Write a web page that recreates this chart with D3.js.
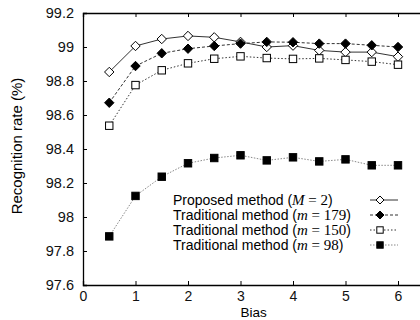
<!DOCTYPE html>
<html>
<head>
    <title>Recognition rate vs bias</title>
    <script src="https://d3js.org/d3.v7.min.js"></script>
    <style>
        body { margin: 0; background-color: #ffffff; }
        svg { display: block; }
    </style>
</head>
<body>
    <script>
        // data
        const bias = [0.5, 1, 1.5, 2, 2.5, 3, 3.5, 4, 4.5, 5, 5.5, 6];
        const proposedM2 = [98.853, 99.006, 99.047, 99.065, 99.057, 99.03, 99.0, 99.008, 98.98, 98.97, 98.97, 98.943];
        const tradM179 = [98.672, 98.888, 98.963, 98.99, 99.006, 99.02, 99.03, 99.028, 99.02, 99.02, 99.01, 99.0];
        const tradM150 = [98.537, 98.776, 98.863, 98.904, 98.931, 98.945, 98.935, 98.93, 98.933, 98.924, 98.914, 98.896];
        const tradM98 = [97.886, 98.124, 98.237, 98.316, 98.347, 98.363, 98.333, 98.351, 98.327, 98.339, 98.304, 98.304];
        const xTicks = [0, 1, 2, 3, 4, 5, 6];
        const yTicks = [97.6, 97.8, 98, 98.2, 98.4, 98.6, 98.8, 99, 99.2];

        const series = [
            { label: "Proposed method", v: "M", n: "2", values: proposedM2, marker: "diamond", filled: false, dash: null },
            { label: "Traditional method", v: "m", n: "179", values: tradM179, marker: "diamond", filled: true, dash: "3,2" },
            { label: "Traditional method", v: "m", n: "150", values: tradM150, marker: "square", filled: false, dash: "1.5,2" },
            { label: "Traditional method", v: "m", n: "98", values: tradM98, marker: "square", filled: true, dash: "1.5,1.5" }
        ];

        const W = 420, H = 320;
        const margin = { top: 13, left: 83, bottom: 35 };

        const svg = d3.select("body").append("svg")
            .attr("width", W)
            .attr("height", H);

        const x = d3.scaleLinear().domain([0, 6.5]).range([margin.left, margin.left + 6.5 * 52.5]);
        const y = d3.scaleLinear().domain([97.6, 99.2]).range([H - margin.bottom, margin.top]);

        const font = "Liberation Sans, Arial, Helvetica, sans-serif";
        const serif = "Liberation Serif, Times New Roman, serif";

        // axes with inward ticks
        const xAxis = svg.append("g")
            .attr("transform", "translate(0," + y(97.6) + ")")
            .call(d3.axisBottom(x).tickValues(xTicks).tickSize(-4).tickPadding(6).tickFormat(d3.format("d")));
        const xTop = svg.append("g")
            .attr("transform", "translate(0," + y(99.2) + ")")
            .call(d3.axisTop(x).tickValues(xTicks).tickSize(-4).tickFormat(""));
        const yAxis = svg.append("g")
            .attr("transform", "translate(" + x(0) + ",0)")
            .call(d3.axisLeft(y).tickValues(yTicks).tickSize(-4).tickPadding(9).tickFormat(d => d3.format("")(+d.toFixed(1))));

        [xAxis, xTop, yAxis].forEach(g => {
            g.select(".domain").attr("stroke", "#000").attr("stroke-width", 1.3);
            g.selectAll(".tick line").attr("stroke", "#000");
            g.selectAll("text").style("font-family", font).style("font-size", "14.5px").attr("fill", "#111");
        });
        xAxis.selectAll("text").style("font-size", "14px");

        // axis titles
        svg.append("text")
            .attr("x", x(3.25))
            .attr("y", 317)
            .attr("text-anchor", "middle")
            .style("font-family", font)
            .style("font-size", "13.5px")
            .text("Bias");

        svg.append("text")
            .attr("transform", "translate(22,146) rotate(-90)")
            .attr("text-anchor", "middle")
            .style("font-family", font)
            .style("font-size", "15px")
            .text("Recognition rate (%)");

        function drawMarker(g, s, cx, cy, r0) {
            if (s.marker === "diamond") {
                const r = r0 || 4.7;
                g.append("path")
                    .attr("d", "M" + cx + "," + (cy - r) + "L" + (cx + r) + "," + cy + "L" + cx + "," + (cy + r) + "L" + (cx - r) + "," + cy + "Z")
                    .attr("fill", s.filled ? "#000" : "#fff")
                    .attr("stroke", "#000")
                    .attr("stroke-width", 1);
            } else {
                const r = r0 ? r0 * 0.8 : 3.7;
                g.append("rect")
                    .attr("x", cx - r).attr("y", cy - r)
                    .attr("width", 2 * r).attr("height", 2 * r)
                    .attr("fill", s.filled ? "#000" : "#fff")
                    .attr("stroke", "#000")
                    .attr("stroke-width", 1);
            }
        }

        const line = d3.line()
            .x((d, i) => x(bias[i]))
            .y(d => y(d));

        series.forEach(s => {
            const g = svg.append("g");
            g.append("path")
                .datum(s.values)
                .attr("d", line)
                .attr("fill", "none")
                .attr("stroke", s.filled && s.marker === "square" ? "#888" : "#333")
                .attr("stroke-width", 1)
                .attr("stroke-dasharray", s.dash);
            s.values.forEach((v, i) => drawMarker(g, s, x(bias[i]), y(v)));
        });

        // legend
        const legend = svg.append("g");
        series.forEach((s, i) => {
            const ly = 200 + i * 15;
            const t = legend.append("text")
                .attr("x", 173)
                .attr("y", ly)
                .attr("dy", "0.35em")
                .style("font-family", font)
                .style("font-size", "14px");
            t.append("tspan").text(s.label + " (");
            t.append("tspan").text(s.v).style("font-family", serif).style("font-style", "italic").style("font-size", "15px");
            t.append("tspan").text(" = " + s.n).style("font-family", serif).style("font-size", "15px");
            t.append("tspan").text(")");
            legend.append("line")
                .attr("x1", 370).attr("x2", 398)
                .attr("y1", ly).attr("y2", ly)
                .attr("stroke", s.filled && s.marker === "square" ? "#888" : "#333")
                .attr("stroke-width", 1)
                .attr("stroke-dasharray", s.dash);
            drawMarker(legend, s, 380, ly, 4);
        });
    </script>
</body>
</html>
